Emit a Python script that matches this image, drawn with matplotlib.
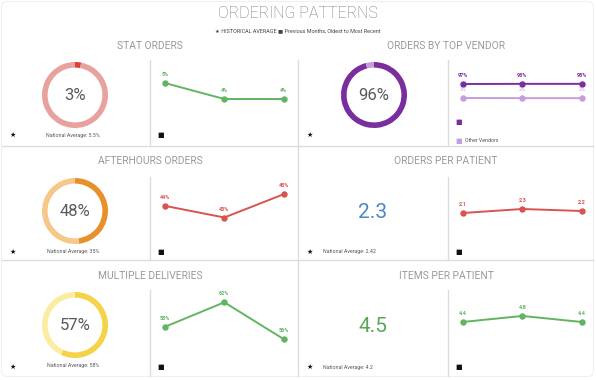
import matplotlib
matplotlib.use("Agg")
import matplotlib.pyplot as plt
from matplotlib.patches import FancyBboxPatch

# ---------- data ----------
months = [0, 1, 2]

stat_pct = 3
stat_trend = [5, 4, 4]
stat_nat = "National Average: 5.5%"

vendor_pct = 96
vendor_top = [97, 98, 98]
vendor_other = [3, 2, 2]

after_pct = 48
after_trend = [44, 43, 45]
after_nat = "National Average: 35%"

mult_pct = 57
mult_trend = [58, 62, 56]
mult_nat = "National Average: 58%"

opp_value = "2.3"
opp_trend = [2.1, 2.3, 2.2]
opp_nat = "National Average: 2.42"

ipp_value = "4.5"
ipp_trend = [4.4, 4.8, 4.4]
ipp_nat = "National Average: 4.2"

panel_titles = ["STAT ORDERS", "ORDERS BY TOP VENDOR", "AFTERHOURS ORDERS",
                "ORDERS PER PATIENT", "MULTIPLE DELIVERIES", "ITEMS PER PATIENT"]

# ---------- style ----------
W, H = 596, 380
FONT = ["Roboto", "DejaVu Sans"]
plt.rcParams["font.family"] = FONT
GRID = "#dcdcdc"
GREEN = "#62b462"
RED = "#d9534f"
PURPLE = "#7a2e9e"
LPURPLE = "#c69ddb"


def box(x0, y0, x1, y1):
    return [x0 / W, 1 - y1 / H, (x1 - x0) / W, (y1 - y0) / H]


fig = plt.figure(figsize=(W / 100, H / 100), dpi=100)
bg = fig.add_axes([0, 0, 1, 1])
bg.set_xlim(0, W)
bg.set_ylim(H, 0)
bg.axis("off")

# card frame and dividers
bg.add_patch(FancyBboxPatch((1.5, 1.5), 592, 375, boxstyle="round,pad=0,rounding_size=6",
                            fc="none", ec="#f0f0f0", lw=0.8))
for y in [146, 260]:
    bg.plot([2, 593], [y, y], color=GRID, lw=1)
bg.plot([298, 298], [60, 146], color=GRID, lw=1)
bg.plot([298, 298], [146, 376], color=GRID, lw=1)
for (y0, y1) in [(60, 146), (177, 260), (290, 376)]:
    bg.plot([150, 150], [y0, y1], color=GRID, lw=1)
    bg.plot([448, 448], [y0, y1], color=GRID, lw=1)

# headers
bg.text(298, 13, "ORDERING PATTERNS", ha="center", va="center", fontsize=11.5,
        color="#7a7a7a", fontweight="light")
bg.text(298, 31, "\u2605 HISTORICAL AVERAGE \u25a0 Previous Months, Oldest to Most Recent",
        ha="center", va="center", fontsize=3.9, color="#444444")

title_pos = [(150, 46), (446, 46), (150, 161), (446, 161), (150, 276), (446, 276)]
for t, (x, y) in zip(panel_titles, title_pos):
    bg.text(x, y, t, ha="center", va="center", fontsize=7.4, color="#9a9a9a")


def donut(cx, cy, pct, c_main, c_rest, r=33):
    ax = fig.add_axes(box(cx - r, cy - r, cx + r, cy + r))
    ax.pie([pct, 100 - pct], colors=[c_main, c_rest], startangle=90, counterclock=False,
           wedgeprops=dict(width=0.17, edgecolor="none"), radius=1)
    ax.set_xlim(-1, 1)
    ax.set_ylim(-1, 1)
    ax.set_aspect("equal")
    ax.axis("off")
    bg.text(cx, cy, f"{pct}%", ha="center", va="center", fontsize=12, color="#5a5a5a")


def trend(x0, y0, x1, y1, series, ylim):
    ax = fig.add_axes(box(x0, y0, x1, y1))
    for vals, color, fmt, bold in series:
        ax.plot(months, vals, color=color, lw=1.4, marker="o", ms=3.6)
        for m, v in zip(months, vals):
            ax.annotate(fmt(v), (m, v), xytext=(0, 4.2), textcoords="offset points",
                        ha="center", va="bottom", fontsize=3.9, color=color,
                        fontweight="bold" if bold else "normal")
    ax.set_xlim(-0.25, 2.24)
    ax.set_ylim(*ylim)
    ax.axis("off")
    return ax


pct = lambda v: f"{v}%"
dec = lambda v: f"{v:.1f}"

# donuts
donut(75, 95, stat_pct, "#d9423a", "#e8a29e")
donut(374, 95, vendor_pct, PURPLE, LPURPLE)
donut(75, 211, after_pct, "#e8902c", "#f5c88a")
donut(75, 325, mult_pct, "#f5d347", "#fbeca2")

# big numbers
bg.text(373, 212, opp_value, ha="center", va="center", fontsize=15, color="#4a86c8")
bg.text(373, 326, ipp_value, ha="center", va="center", fontsize=15, color="#5aa75a")

# trend lines
trend(150, 60, 298, 146, [(stat_trend, GREEN, pct, True)], (1.06, 6.44))
trend(448, 60, 596, 146, [(vendor_top, PURPLE, pct, True),
                          (vendor_other, LPURPLE, pct, False)], (-319, 258))
trend(150, 175, 298, 260, [(after_trend, RED, pct, True)], (39.35, 46.65))
trend(448, 175, 596, 260, [(opp_trend, RED, dec, True)], (-0.25, 4.0))
trend(150, 290, 298, 376, [(mult_trend, GREEN, pct, True)], (50, 64))
trend(448, 290, 596, 376, [(ipp_trend, GREEN, dec, True)], (0.8, 6.53))

# markers + national averages
for y in [135, 252, 367]:
    bg.text(13, y, "\u2605", ha="center", va="center", fontsize=5, color="#111111",
            family="DejaVu Sans")
    bg.text(161, y, "\u25a0", ha="center", va="center", fontsize=5, color="#111111",
            family="DejaVu Sans")
for y in [135, 252, 367]:
    bg.text(310, y, "\u2605", ha="center", va="center", fontsize=5, color="#111111",
            family="DejaVu Sans")
for y in [252, 367]:
    bg.text(459, y, "\u25a0", ha="center", va="center", fontsize=5, color="#111111",
            family="DejaVu Sans")

for txt, y in [(stat_nat, 135), (after_nat, 252), (mult_nat, 366)]:
    bg.text(73, y, txt, ha="center", va="center", fontsize=3.8, color="#555555")
for txt, y in [(opp_nat, 252), (ipp_nat, 367)]:
    bg.text(323, y, txt, ha="left", va="center", fontsize=3.8, color="#555555")

# vendor legend
bg.text(459, 122, "\u25a0", ha="center", va="center", fontsize=5, color=PURPLE,
        family="DejaVu Sans")
bg.text(459, 141, "\u25a0", ha="center", va="center", fontsize=5, color=LPURPLE,
        family="DejaVu Sans")
bg.text(465, 141, "Other Vendors", ha="left", va="center", fontsize=3.8, color="#555555")

fig.savefig("out.png", dpi=100, facecolor="white")
